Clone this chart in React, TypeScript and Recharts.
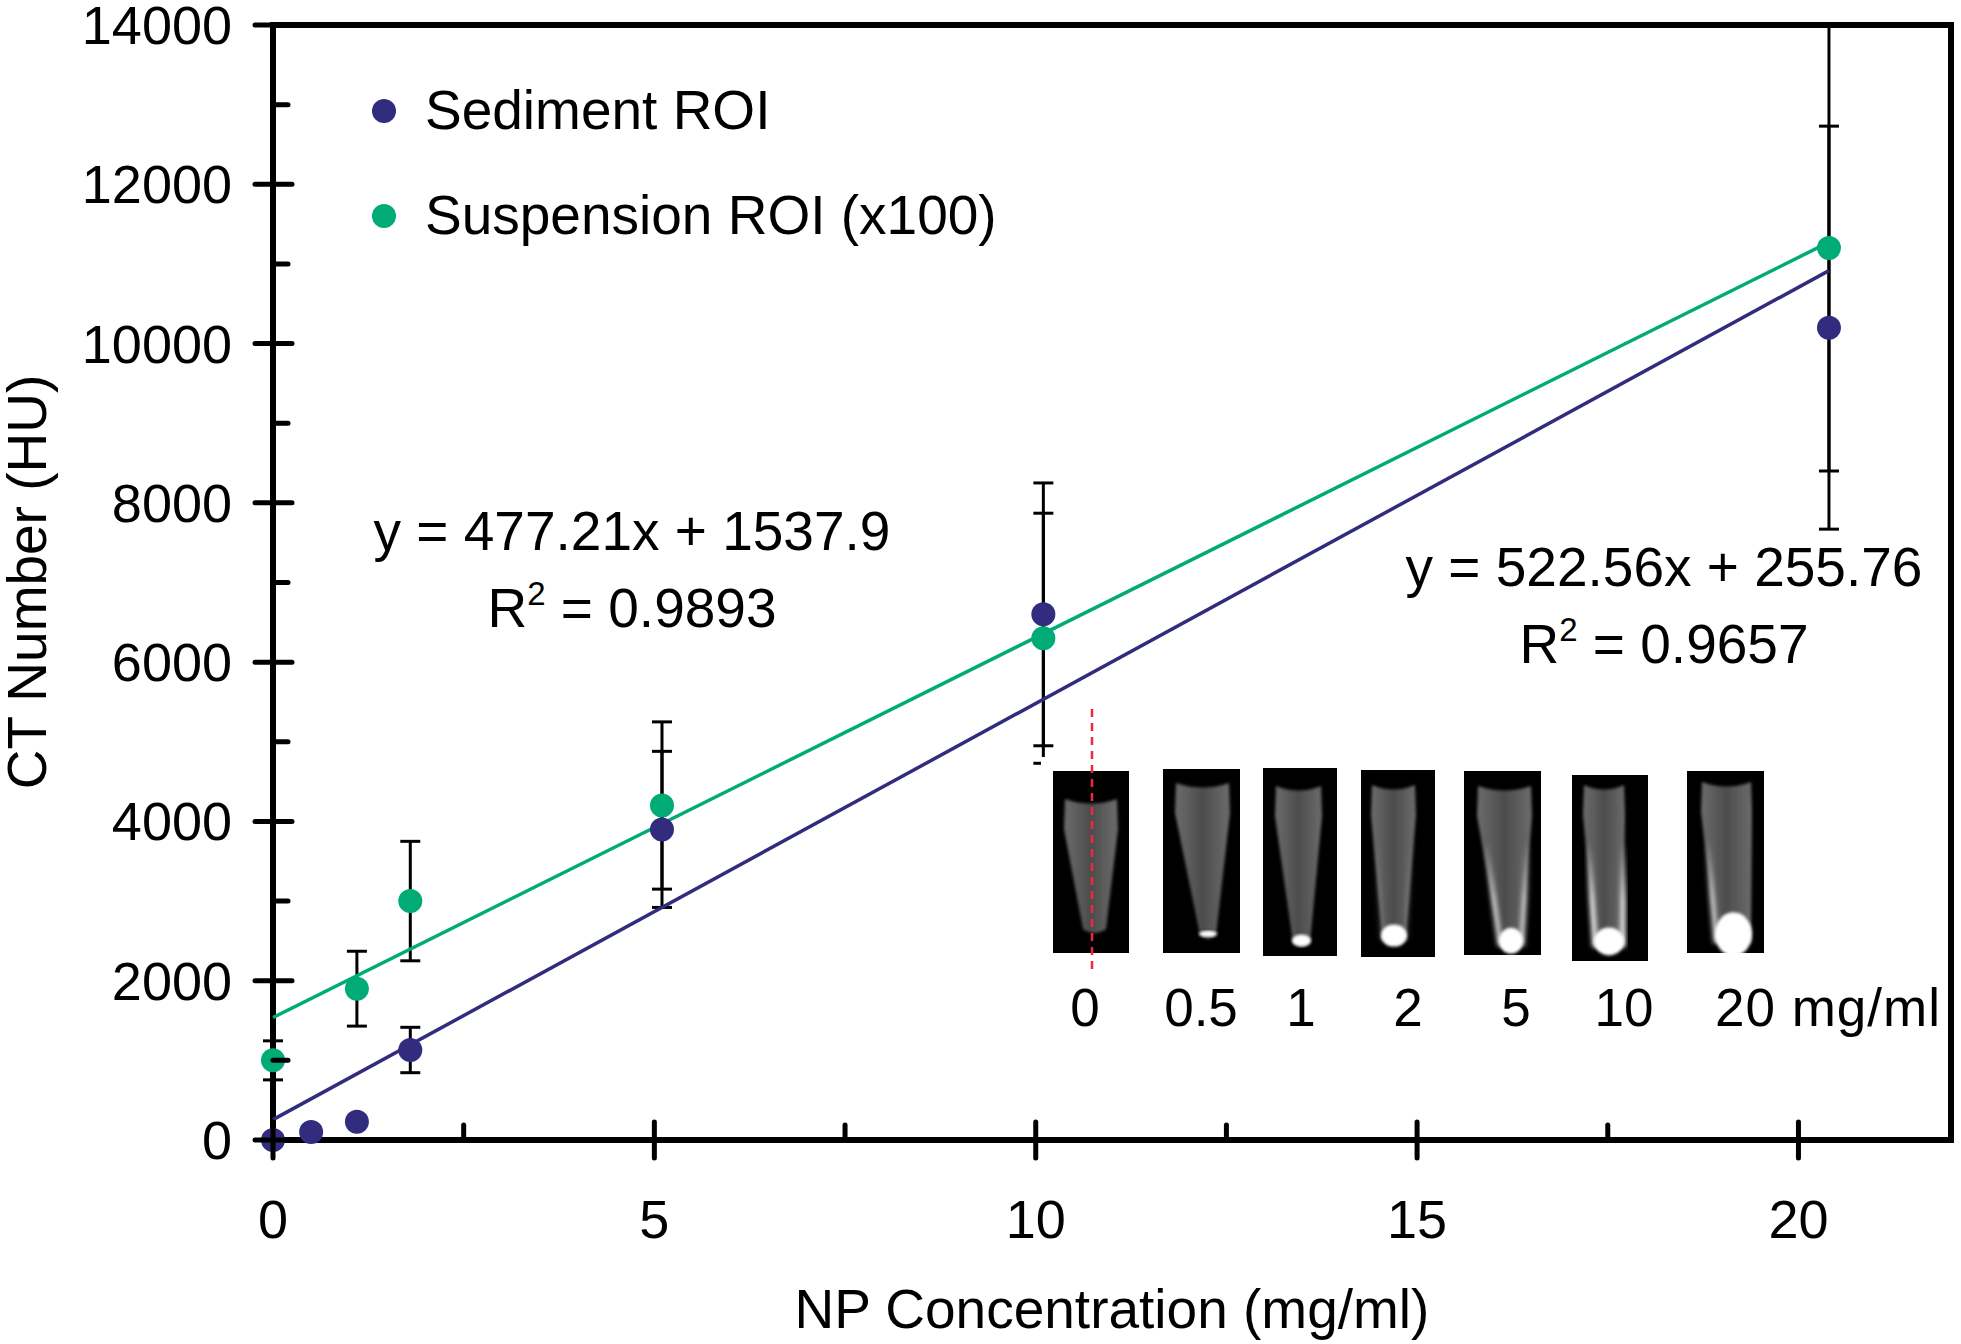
import React from "react";
import { ScatterChart, Scatter, XAxis, YAxis, ErrorBar, Legend } from "recharts";

// values
const sedimentConc = [0, 0.5, 1.1, 1.8, 5.1, 10.1, 20.4];
const sedimentCT = [0, 100, 230, 1130, 3900, 6600, 10200];
const sedimentErr = [null, null, null, 285, 980, 1650, 2530];

const suspensionConc = [0, 1.1, 1.8, 5.1, 10.1, 20.4];
const suspensionCT = [1000, 1900, 3000, 4200, 6300, 11200];
const suspensionErr = [245, 470, 750, 1050, 1570, 2800];

const fitConc = [0, 20.4];
const sedimentFit = [256, 10916];
const suspensionFit = [1538, 11273];

const xTicks = [0, 2.5, 5, 7.5, 10, 12.5, 15, 17.5, 20];
const xTopTicks = [5, 10, 15, 20];
const yTicks = [0, 1000, 2000, 3000, 4000, 5000, 6000, 7000, 8000, 9000, 10000, 11000, 12000, 13000, 14000];
const yRightTicks = [2000, 4000, 6000, 8000, 10000, 12000];

const insetLabels = ["0", "0.5", "1", "2", "5", "10"];
const insetLabelX = [1085, 1201, 1301, 1408, 1516, 1624];

const NAVY = "#312c7e";
const GREEN = "#00ab75";
const FONT = "'Liberation Sans', Arial, sans-serif";

const toRows = (xs: number[], ys: number[], errs?: (number | null)[]) =>
  xs.map((x, i) => ({ x, y: ys[i], err: errs ? errs[i] : null }));

const sedimentRows = toRows(sedimentConc, sedimentCT, sedimentErr);
const suspensionRows = toRows(suspensionConc, suspensionCT, suspensionErr);
const sedimentFitRows = toRows(fitConc, sedimentFit);
const suspensionFitRows = toRows(fitConc, suspensionFit);

const tickLine = { stroke: "#000", strokeWidth: 5, strokeLinecap: "round" as const };
const axisLine = { stroke: "#000", strokeWidth: 6, strokeLinecap: "square" as const };

const BottomTick = ({ x, y, payload }: any) => {
  const major = payload.value % 5 === 0;
  return (
    <g>
      {major ? <line x1={x} x2={x} y1={y - 18} y2={y + 18} {...tickLine} /> : <line x1={x} x2={x} y1={y} y2={y - 15} {...tickLine} />}
      {major && (
        <text x={x} y={y + 98} textAnchor="middle" fontSize={54} fontFamily={FONT} fill="#000">
          {payload.value}
        </text>
      )}
    </g>
  );
};

const LeftTick = ({ x, y, payload }: any) => {
  const major = payload.value % 2000 === 0;
  return (
    <g>
      {major ? <line x1={x - 18} x2={x + 19} y1={y} y2={y} {...tickLine} /> : <line x1={x} x2={x + 15} y1={y} y2={y} {...tickLine} />}
      {major && (
        <text x={x - 41} y={y + 19} textAnchor="end" fontSize={54} fontFamily={FONT} fill="#000">
          {payload.value}
        </text>
      )}
    </g>
  );
};

const TopTick = ({ x, y }: any) => <line x1={x} x2={x} y1={y} y2={y + 20} {...tickLine} strokeWidth={4} />;
const RightTick = ({ x, y }: any) => <line x1={x} x2={x - 18} y1={y} y2={y} {...tickLine} />;

const YTitle = () => (
  <text transform="translate(46 582) rotate(-90)" textAnchor="middle" fontSize={55} fontFamily={FONT} fill="#000">
    CT Number (HU)
  </text>
);

const Dot = ({ cx, cy, fill }: any) => <circle cx={cx} cy={cy} r={12} fill={fill} />;
const NoDot = () => null;

const LegendBox = ({ payload }: any) => (
  <svg width={700} height={200} style={{ display: "block" }}>
    {(payload || []).map((entry: any, i: number) => (
      <g key={entry.value} transform={`translate(0 ${i * 105})`}>
        <circle cx={24} cy={36} r={12} fill={entry.color} />
        <text x={65} y={54} fontSize={55} fontFamily={FONT} fill="#000">
          {entry.value}
        </text>
      </g>
    ))}
  </svg>
);

// CT slices of the tubes: layout only, in px
const tubes = [
  { dx: 0, box: [1053, 771, 76, 182], top: [1065, 1117, 799], tip: [1083, 1106, 929], edge: 0.0, blob: 0 },
  { dx: 0, box: [1163, 769, 77, 184], top: [1176, 1229, 783], tip: [1200, 1216, 935], edge: 0.0, blob: 3 },
  { dx: -1, box: [1264, 768, 74, 188], top: [1277, 1322, 786], tip: [1294, 1311, 943], edge: 0.0, blob: 6 },
  { dx: -1, box: [1362, 770, 74, 187], top: [1373, 1416, 785], tip: [1383, 1407, 940], edge: 0.15, blob: 11 },
  { dx: -2, box: [1466, 771, 77, 184], top: [1480, 1533, 786], tip: [1502, 1524, 946], edge: 0.8, blob: 13 },
  { dx: -3, box: [1575, 775, 76, 186], top: [1587, 1627, 785], tip: [1598, 1626, 947], edge: 1, blob: 14 },
  { dx: -4, box: [1691, 771, 77, 182], top: [1706, 1755, 782], tip: [1720, 1755, 943], edge: 0.8, blob: 22 },
];

const Tube = ({ dx, box, top, tip, edge, blob }: any) => {
  const [bx, by, bw, bh] = box;
  const [tl, tr, ty] = top;
  const [bl, br, tipY] = tip;
  const outline = `M${tl} ${ty} Q${(tl + tr) / 2} ${ty + 9} ${tr} ${ty} L${tr + 1} ${ty + 30} L${br} ${tipY} Q${(bl + br) / 2} ${tipY + 8} ${bl} ${tipY} L${tl - 1} ${ty + 30} Z`;
  const midY = ty + (tipY - ty) * 0.35;
  const leftMid = tl + (bl - tl) * 0.35;
  const rightMid = tr + (br - tr) * 0.35;
  return (
    <g transform={`translate(${dx} 0)`}>
      <rect x={bx} y={by} width={bw} height={bh} fill="#000" />
      <path d={outline} fill="url(#tubeFill)" filter="url(#soft)" />
      {edge > 0 && (
        <g filter="url(#softer)" stroke="url(#edgeFade)" strokeOpacity={edge} strokeWidth={5} fill="none">
          <path d={`M${leftMid} ${midY} L${bl} ${tipY}`} />
          <path d={`M${rightMid} ${midY} L${br} ${tipY}`} />
        </g>
      )}
      {blob > 0 && <ellipse cx={(bl + br) / 2} cy={tipY - blob * 0.4} rx={(br - bl) / 2 + 1} ry={blob} fill="#fff" filter="url(#soft)" />}
    </g>
  );
};

const Overlay = () => (
  <svg width={1961} height={1344} style={{ position: "absolute", left: 0, top: 0, pointerEvents: "none" }}>
    <defs>
      <linearGradient id="tubeFill" x1="0" y1="0" x2="1" y2="0">
        <stop offset="0%" stopColor="#6c6c6c" />
        <stop offset="50%" stopColor="#4c4c4c" />
        <stop offset="100%" stopColor="#6c6c6c" />
      </linearGradient>
      <linearGradient id="edgeFade" x1="0" y1="0" x2="0" y2="1">
        <stop offset="0%" stopColor="#fff" stopOpacity={0} />
        <stop offset="55%" stopColor="#fff" stopOpacity={0.9} />
        <stop offset="100%" stopColor="#fff" stopOpacity={1} />
      </linearGradient>
      <filter id="soft">
        <feGaussianBlur stdDeviation="1.5" />
      </filter>
      <filter id="softer">
        <feGaussianBlur stdDeviation="2.5" />
      </filter>
    </defs>

    {/* white edge of the pasted panel cuts the 10 mg/ml whisker */}
    <rect x={1041} y={757} width={20} height={14} fill="#fff" />
    {tubes.map((t) => (
      <Tube key={t.box[0]} {...t} />
    ))}
    <line x1={1092} x2={1092} y1={709} y2={972} stroke="#ee2a3a" strokeWidth={2.5} strokeDasharray="8 6" />

    <g fontFamily={FONT} fontSize={53} fill="#000">
      {insetLabels.map((label, i) => (
        <text key={label} x={insetLabelX[i]} y={1026} textAnchor="middle">
          {label}
        </text>
      ))}
      <text x={1715} y={1026} textLength={225}>20 mg/ml</text>
    </g>
    <g fontFamily={FONT} fontSize={55} fill="#000">
      <text x={632} y={550} textAnchor="middle">y = 477.21x + 1537.9</text>
      <text x={632} y={627} textAnchor="middle">
        R<tspan fontSize={33} dy={-22}>2</tspan>
        <tspan dy={22}> = 0.9893</tspan>
      </text>
      <text x={1664} y={586} textAnchor="middle">y = 522.56x + 255.76</text>
      <text x={1664} y={663} textAnchor="middle">
        R<tspan fontSize={33} dy={-22}>2</tspan>
        <tspan dy={22}> = 0.9657</tspan>
      </text>
    </g>
  </svg>
);

export default function App() {
  return (
    <div style={{ position: "absolute", left: 0, top: 0, width: 1961, height: 1344, background: "#fff" }}>
      <ScatterChart width={1961} height={1344} margin={{ top: 24, right: 9, bottom: 203, left: 272 }}>
        <XAxis
          dataKey="x"
          type="number"
          domain={[0, 22]}
          ticks={xTicks}
          interval={0}
          height={1}
          tick={BottomTick}
          tickLine={false}
          tickSize={0}
          tickMargin={0}
          axisLine={axisLine}
          label={{ value: "NP Concentration (mg/ml)", position: "bottom", offset: 148, fontSize: 55, fontFamily: FONT, fill: "#000" }}
        />
        <XAxis
          xAxisId="top"
          orientation="top"
          type="number"
          domain={[0, 22]}
          ticks={xTopTicks}
          interval={0}
          height={1}
          tick={TopTick}
          tickLine={false}
          tickSize={0}
          tickMargin={0}
          axisLine={axisLine}
        />
        <YAxis
          dataKey="y"
          type="number"
          domain={[0, 14000]}
          ticks={yTicks}
          interval={0}
          width={1}
          tick={LeftTick}
          tickLine={false}
          tickSize={0}
          tickMargin={0}
          axisLine={axisLine}
          label={{ content: YTitle }}
        />
        <YAxis
          yAxisId="right"
          orientation="right"
          type="number"
          domain={[0, 14000]}
          ticks={yRightTicks}
          interval={0}
          width={1}
          tick={RightTick}
          tickLine={false}
          tickSize={0}
          tickMargin={0}
          axisLine={axisLine}
        />

        <Legend
          layout="horizontal"
          verticalAlign="middle"
          align="center"
          content={LegendBox}
          wrapperStyle={{ left: 360, top: 75, width: 700 }}
        />

        <Scatter data={sedimentFitRows} line={{ stroke: NAVY, strokeWidth: 3.5 }} shape={NoDot} legendType="none" isAnimationActive={false} />
        <Scatter data={suspensionFitRows} line={{ stroke: GREEN, strokeWidth: 3.5 }} shape={NoDot} legendType="none" isAnimationActive={false} />

        <Scatter name="Sediment ROI" data={sedimentRows} fill={NAVY} shape={Dot} isAnimationActive={false}>
          <ErrorBar dataKey="err" direction="y" width={10} stroke="#000" strokeWidth={3} isAnimationActive={false} />
        </Scatter>
        <Scatter name="Suspension ROI (x100)" data={suspensionRows} fill={GREEN} shape={Dot} isAnimationActive={false}>
          <ErrorBar dataKey="err" direction="y" width={10} stroke="#000" strokeWidth={3} isAnimationActive={false} />
        </Scatter>
      </ScatterChart>
      <Overlay />
    </div>
  );
}
